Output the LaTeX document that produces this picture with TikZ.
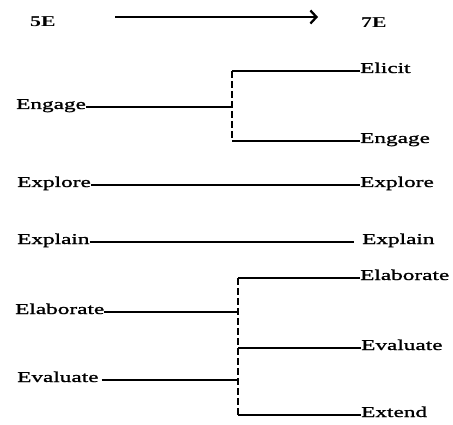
\documentclass[tikz,border=0pt]{standalone}
\usepackage{fontspec}
\setmainfont{Liberation Serif}[FakeStretch=1.55, FakeBold=1.3]
\newfontfamily\headfont{Liberation Serif}[FakeStretch=1.45]
\usetikzlibrary{arrows.meta}

\tikzset{
  stage/.style={inner sep=0pt, text height=4pt, text depth=0pt, anchor=west,
                font=\fontsize{15}{15}\selectfont},
  head/.style={inner sep=0pt, anchor=base west,
               font=\headfont\fontsize{15}{15}\selectfont\bfseries},
  link/.style={line width=1.8pt},
  fork/.style={line width=2.8pt, dash pattern=on 7pt off 3pt},
  forkthin/.style={line width=2pt, dash pattern=on 7pt off 3pt}
}

\begin{document}
\begin{tikzpicture}[x=1pt,y=-1pt]
   \useasboundingbox (0,0) rectangle (453,425);
   % heading
   \node[head] (five) at (30,27) {5E};
   \node[head] (seven) at (361,28) {7E};
   \coordinate (arrA) at (115,17);
   \coordinate (arrB) at (318,17);
   \draw[line width=2.3pt, -{Straight Barb[length=6pt,width=13pt,line width=2.3pt]}] (arrA) -- (arrB);
   % engage -> elicit, engage
   \node[stage] (engL) at (16,107) {Engage};
   \node[stage] (elicit) at (360,71) {Elicit};
   \node[stage] (engR) at (360,141) {Engage};
   \coordinate (jA) at (232,107);
   \coordinate (jAtop) at (232,71);
   \coordinate (jAbot) at (232,141);
   \draw[link] (engL) -- (jA);
   \draw[fork] (jAtop) -- (jAbot);
   \draw[link] (jAtop) -- (elicit);
   \draw[link] (jAbot) -- (engR);
   % straight rows
   \foreach \y/\w/\n/\gap in {185/Explore/xpl/0, 242/Explain/xpn/10}{
    \node[stage] (\n L) at (17,\y) {\w};
    \node[stage] (\n R) at (360+\gap/5,\y) {\w};
    \draw[link] (\n L) -- ([xshift=-\gap pt/1.2]\n R.west);
   }
   % elaborate, evaluate -> elaborate, evaluate, extend
   \node[stage] (elaL) at (15,312) {Elaborate};
   \node[stage] (evaL) at (17,380) {Evaluate};
   \node[stage] (elaR) at (360,278) {Elaborate};
   \node[stage] (evaR) at (361,348) {Evaluate};
   \node[stage] (ext) at (361,415) {Extend};
   \coordinate (jBtop) at (238,278);
   \coordinate (jBbot) at (238,415);
   \coordinate (jBa) at (238,312);
   \coordinate (jBb) at (238,348);
   \coordinate (jBc) at (238,380);
   \draw[link] (elaL) -- (jBa);
   \draw[link] ([xshift=3pt]evaL.east) -- (jBc);
   \draw[forkthin] (jBtop) -- (jBbot);
   \draw[link] (jBtop) -- (elaR);
   \draw[link] (jBb) -- (evaR);
   \draw[link] (jBbot) -- (ext);
\end{tikzpicture}
\end{document}
